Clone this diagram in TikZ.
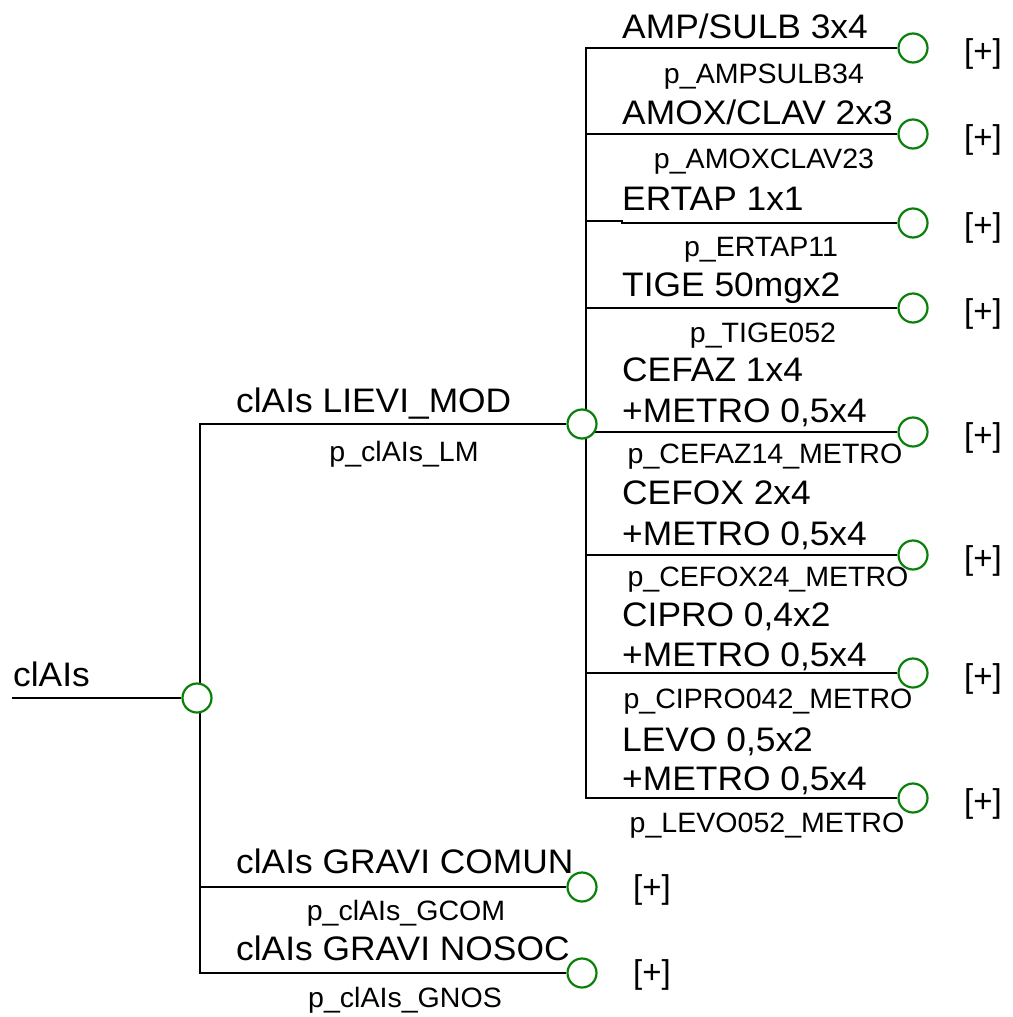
\documentclass[tikz,border=0pt]{standalone}
\usepackage{fontspec}
\setmainfont{Liberation Sans}
\usetikzlibrary{backgrounds}
\definecolor{ngreen}{RGB}{10,128,10}
\begin{document}
\begin{tikzpicture}[x=1pt,y=-1pt,
  big/.style={font=\fontsize{34}{40}\selectfont, anchor=base west, inner sep=0pt, xscale=1.04},
  small/.style={font=\fontsize{28}{32}\selectfont, anchor=base, inner sep=0pt, xscale=1.02},
  plus/.style={font=\fontsize{33}{40}\selectfont, anchor=base west, inner sep=0pt},
  chance/.style={circle, draw=ngreen, line width=2.2pt, fill=white, minimum size=29pt, inner sep=0pt},
  edge/.style={line width=2.2pt, black}]
\useasboundingbox (0,0) rectangle (1012,1017);
% root
\coordinate (r0) at (12,698);
\coordinate (j0) at (200,698);
\node[chance] (c0) at (197,698) {};
\node[big] (t0) at (13,686) {clAIs};
% level 1
\node[chance] (c1) at (582,424) {};
\node[big] (t1) at (236,412) {clAIs LIEVI\_MOD};
\node[small] (p1) at (404,461) {p\_clAIs\_LM};
\node[chance] (c2) at (582,887) {};
\node[big] (t2) at (236,873) {clAIs GRAVI COMUN};
\node[small] (p2) at (406,920) {p\_clAIs\_GCOM};
\node[plus] (x2) at (633,898) {[+]};
\node[chance] (c3) at (582,973) {};
\node[big] (t3) at (236,960) {clAIs GRAVI NOSOC};
\node[small] (p3) at (405,1007) {p\_clAIs\_GNOS};
\node[plus] (x3) at (633,983) {[+]};
% level 2
\coordinate (j1) at (586,424);
\node[chance] (s1) at (913,48) {};
\node[big] (a1) at (622,38) {AMP/SULB 3x4};
\node[small] (q1) at (764,83) {p\_AMPSULB34};
\node[plus] (y1) at (964,62) {[+]};
\node[chance] (s2) at (913,134) {};
\node[big] (a2) at (622,124) {AMOX/CLAV 2x3};
\node[small] (q2) at (764,168) {p\_AMOXCLAV23};
\node[plus] (y2) at (964,148) {[+]};
\coordinate (k3) at (622,221);
\coordinate (k3b) at (622,223);
\node[chance] (s3) at (913,223) {};
\node[big] (a3) at (622,210) {ERTAP 1x1};
\node[small] (q3) at (761,256) {p\_ERTAP11};
\node[plus] (y3) at (964,236) {[+]};
\node[chance] (s4) at (913,308) {};
\node[big] (a4) at (622,296) {TIGE 50mgx2};
\node[small] (q4) at (763,342) {p\_TIGE052};
\node[plus] (y4) at (964,322) {[+]};
\node[chance] (s5) at (913,432) {};
\node[big] (a5) at (622,381) {CEFAZ 1x4};
\node[big] (b5) at (622,422) {+METRO 0,5x4};
\node[small] (q5) at (765,463) {p\_CEFAZ14\_METRO};
\node[plus] (y5) at (964,446) {[+]};
\node[chance] (s6) at (913,555) {};
\node[big] (a6) at (622,504) {CEFOX 2x4};
\node[big] (b6) at (622,545) {+METRO 0,5x4};
\node[small] (q6) at (768,586) {p\_CEFOX24\_METRO};
\node[plus] (y6) at (964,569) {[+]};
\node[chance] (s7) at (913,673) {};
\node[big] (a7) at (622,626) {CIPRO 0,4x2};
\node[big] (b7) at (622,666) {+METRO 0,5x4};
\node[small] (q7) at (768,708) {p\_CIPRO042\_METRO};
\node[plus] (y7) at (964,687) {[+]};
\node[chance] (s8) at (913,798) {};
\node[big] (a8) at (622,751) {LEVO 0,5x2};
\node[big] (b8) at (622,790) {+METRO 0,5x4};
\node[small] (q8) at (767,832) {p\_LEVO052\_METRO};
\node[plus] (y8) at (964,812) {[+]};
\begin{pgfonlayer}{background}
\draw[edge] (r0) -- (c0);
\draw[edge] (j0) |- (c1);
\draw[edge] (j0) |- (c2);
\draw[edge] (j0) |- (c3);
\draw[edge] (j1) |- (s1);
\draw[edge] (j1) |- (s2);
\draw[edge] (j1) |- (k3) -- (k3b) -- (s3);
\draw[edge] (j1) |- (s4);
\draw[edge] (j1) |- (s5);
\draw[edge] (j1) |- (s6);
\draw[edge] (j1) |- (s7);
\draw[edge] (j1) |- (s8);
\end{pgfonlayer}
\end{tikzpicture}
\end{document}
